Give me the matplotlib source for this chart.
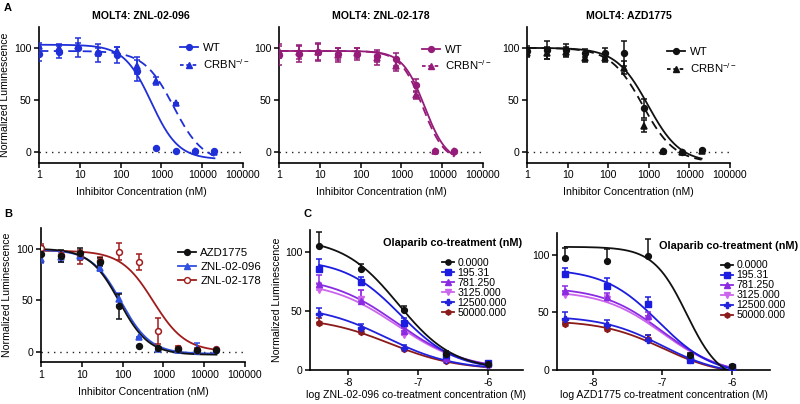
import numpy as np
import matplotlib
matplotlib.use("Agg")
import matplotlib.pyplot as plt
from matplotlib.lines import Line2D

plt.rcParams['font.family'] = ['Liberation Sans', 'DejaVu Sans']
plt.rcParams['mathtext.fontset'] = 'custom'
plt.rcParams['mathtext.rm'] = 'Liberation Sans'
plt.rcParams['mathtext.it'] = 'Liberation Sans'
plt.rcParams['axes.linewidth'] = 1.2

# ---------------- data ----------------
conc_nM = [1.02, 3.05, 9.14, 27.4, 82.3, 247, 741, 2222, 6667, 20000]
xticks_A = [1, 10, 100, 1000, 10000, 100000]
xtick_labels_A = ["1", "10", "100", "1000", "10000", "100000"]

# Panel A1: ZNL-02-096
a1_wt = [94, 96, 100, 95, 93, 78, 4, 1, 1, 1]
a1_wt_err = [7, 6, 9, 9, 8, 10, 0, 0, 0, 0]
a1_ko = [102, 100, 102, 96, 97, 83, 68, 47, 1, 0]
a1_ko_err = [3, 4, 3, 4, 4, 8, 4, 0, 0, 0]
a1_fit_wt = [103, -7, 2.75, 1.3]   # top, bottom, logIC50, hill
a1_fit_ko = [97, -10, 3.3, 1.2]

# Panel A2: ZNL-02-178
a2_wt = [93, 94, 96, 94, 94, 92, 89, 64, 1, 1]
a2_wt_err = [9, 8, 9, 6, 6, 6, 6, 6, 0, 0]
a2_ko = [97, 96, 96, 93, 95, 90, 83, 55, 1, 1]
a2_ko_err = [7, 7, 8, 7, 5, 6, 5, 4, 0, 0]
a2_fit_wt = [97, -10, 3.57, 1.6]
a2_fit_ko = [97, -10, 3.52, 1.6]

# Panel A3: AZD1775
a3_wt = [97, 98, 98, 95, 95, 95, 42, 1, 0, 2]
a3_wt_err = [5, 9, 6, 4, 5, 12, 9, 0, 0, 0]
a3_ko = [95, 95, 96, 90, 90, 81, 25, 1, 0, 1]
a3_ko_err = [4, 6, 5, 4, 4, 6, 6, 0, 0, 0]
a3_fit_wt = [100, -10, 2.98, 1.1]
a3_fit_ko = [100, -10, 2.85, 1.1]

# Panel B
b_azd = [95, 93, 96, 87, 44, 6, 4, 2.5, 2, 2]
b_azd_err = [8, 6, 5, 4, 12, 0, 0, 0, 0, 0]
b_096 = [90, 92, 93, 81, 51, 14, 3, 2, 3, 2]
b_096_err = [4, 5, 4, 3, 6, 0, 0, 0, 5, 0]
b_178 = [101, 94, 92, 88, 97, 87, 20, 4, 2, 3]
b_178_err = [3, 4, 7, 4, 8, 8, 13, 2, 2, 0]
b_fit_azd = [100, -3, 1.92, 1.2]
b_fit_096 = [99, -2, 1.96, 1.2]
b_fit_178 = [98, 0, 2.75, 1.1]

# Panel C
log_conc_M = [-8.408, -7.806, -7.204, -6.602, -6.0]
olaparib_labels = ["0.0000", "195.31", "781.250", "3125.000", "12500.000", "50000.000"]
c_colors = ["#111111", "#1c1ce0", "#8a2be2", "#cc66ee", "#2222dd", "#8b1a1a"]
c_markers = ["o", "s", "^", "v", "P", "h"]

c1_vals = [
    [105, 86, 51, 13.5, 5.5],
    [86, 75, 40, 12.5, 6],
    [73, 59, 33, 10, 5],
    [68, 60, 30, 9, 4],
    [48, 36, 19, 8.5, 4],
    [40, 32, 17.5, 8, 4],
]
c1_err = [
    [12, 4, 3, 3, 0],
    [8, 4, 4, 2, 0],
    [8, 9, 3, 2, 0],
    [6, 8, 3, 2, 0],
    [5, 3, 2, 1, 0],
    [4, 1, 1, 1, 0],
]
c1_fit = [  # top, bottom, logIC50, hill
    [112, 0, -7.28, 1.1],
    [94, 0, -7.25, 1.1],
    [80, 0, -7.3, 0.9],
    [76, 0, -7.3, 0.9],
    [55, 0, -7.45, 0.9],
    [45, 0, -7.4, 0.9],
]

c2_vals = [
    [97, 95, 99, 13, 3.5],
    [83, 73, 57, 9, 3],
    [69, 63, 47, 10, 2],
    [65.5, 62, 44, 10, 2],
    [44, 39, 26, 10, 2],
    [40, 36, 27, 9, 2],
]
c2_err = [
    [9, 10, 15, 2, 0],
    [6, 7, 6, 2, 0],
    [4, 4, 3, 1, 0],
    [3, 3, 3, 1, 0],
    [6, 4, 4, 1, 0],
    [2, 2, 3, 1, 0],
]
c2_fit = [
    [107, -10, -6.65, 1.8],
    [88, -5, -7.05, 1.1],
    [72, -5, -7.0, 1.0],
    [69, -5, -7.0, 1.0],
    [47, -5, -7.0, 1.0],
    [43, -5, -7.0, 1.0],
]


def fourpl(xlog, top, bottom, logc, hill):
    return bottom + (top - bottom) / (1 + 10 ** ((xlog - logc) * hill))


W, H = 800, 404
fig = plt.figure(figsize=(8, 4.04), dpi=100)


def ax_px(left, right, top, bottom):
    return fig.add_axes([left / W, 1 - bottom / H, (right - left) / W, (bottom - top) / H])


FS = 7.6


def style_axes(ax):
    for s in ["top", "right"]:
        ax.spines[s].set_visible(False)
    ax.tick_params(direction="out", length=3.5, width=1.1, labelsize=FS, pad=2)
    ax.minorticks_off()


def setup_A(ax):
    ax.set_xscale("log")
    ax.set_xlim(1, 100000)
    ax.set_ylim(-10, 120)
    ax.set_xticks(xticks_A)
    ax.set_xticklabels(xtick_labels_A)
    ax.set_yticks([0, 50, 100])
    style_axes(ax)
    ax.minorticks_off()
    ax.plot([1, 100000], [0, 0], color="#222222", lw=1.0, ls=(0, (1, 3.5)))
    ax.set_xlabel("Inhibitor Concentration (nM)", fontsize=FS, labelpad=5)


xs_fit = np.logspace(np.log10(conc_nM[0]), np.log10(conc_nM[-1]), 300)
xl_fit = np.log10(xs_fit)


def draw_series(ax, vals, err, fit, color, marker, ls, mfc=None, ms=4.2):
    ax.errorbar(conc_nM, vals, yerr=err, fmt=marker, color=color, ms=ms,
                mfc=mfc if mfc else color, mec=color, mew=1.1,
                ecolor=color, elinewidth=1.1, capsize=2.5, capthick=1.1, ls="none", zorder=3)
    ax.plot(xs_fit, fourpl(xl_fit, *fit), color=color, lw=1.3, ls=ls, zorder=2)


def legend_A(ax, color, labels, markers, lss, anchor, mfcs=None):
    handles = []
    for i, (lab, m, ls) in enumerate(zip(labels, markers, lss)):
        mfc = mfcs[i] if mfcs else color
        c = color[i] if isinstance(color, list) else color
        handles.append(Line2D([], [], color=c, marker=m, ls=ls, lw=1.3, ms=4.2,
                              mfc=mfc if mfc else c, mec=c))
    ax.legend(handles, labels, loc="upper left", bbox_to_anchor=anchor, frameon=False,
              fontsize=8.2, handlelength=1.6, handletextpad=0.4, labelspacing=0.35,
              borderpad=0, borderaxespad=0)


CRBN = "CRBN$^{-/-}$"

# ---- A1 ----
blueA = "#2030d8"
ax1 = ax_px(39, 243, 27, 162.5)
setup_A(ax1)
draw_series(ax1, a1_wt, a1_wt_err, a1_fit_wt, blueA, "o", "-")
draw_series(ax1, a1_ko, a1_ko_err, a1_fit_ko, blueA, "^", (0, (5, 3)))
ax1.set_ylabel("Normalized Luminescence", fontsize=FS, labelpad=3)
ax1.set_title("MOLT4: ZNL-02-096", fontsize=FS, fontweight="bold", pad=6)
legend_A(ax1, blueA, ["WT", CRBN], ["o", "^"], ["-", (0, (2, 1.5))], (0.69, 0.88))

# ---- A2 ----
purpA = "#951c78"
ax2 = ax_px(279, 483, 27, 162.5)
setup_A(ax2)
draw_series(ax2, a2_wt, a2_wt_err, a2_fit_wt, purpA, "o", "-")
draw_series(ax2, a2_ko, a2_ko_err, a2_fit_ko, purpA, "^", (0, (5, 3)))
ax2.set_title("MOLT4: ZNL-02-178", fontsize=FS, fontweight="bold", pad=6)
legend_A(ax2, purpA, ["WT", CRBN], ["o", "^"], ["-", (0, (2, 1.5))], (0.70, 0.87))

# ---- A3 ----
ax3 = ax_px(527, 730, 27, 162.5)
setup_A(ax3)
draw_series(ax3, a3_wt, a3_wt_err, a3_fit_wt, "#111111", "o", "-")
draw_series(ax3, a3_ko, a3_ko_err, a3_fit_ko, "#111111", "^", (0, (5, 3)))
ax3.set_title("MOLT4: AZD1775", fontsize=FS, fontweight="bold", pad=6)
legend_A(ax3, "#111111", ["WT", CRBN], ["o", "^"], ["-", (0, (2, 1.5))], (0.69, 0.85))

# ---- B ----
axb = ax_px(41, 245, 228, 362)
setup_A(axb)
blueB = "#3050e0"
redB = "#a01c1c"
draw_series(axb, b_178, b_178_err, b_fit_178, redB, "o", "-", mfc="white")
draw_series(axb, b_096, b_096_err, b_fit_096, blueB, "^", "-")
draw_series(axb, b_azd, b_azd_err, b_fit_azd, "#111111", "o", "-")
axb.set_ylabel("Normalized Luminescence", fontsize=FS, labelpad=3)
legend_A(axb, ["#111111", blueB, redB], ["AZD1775", "ZNL-02-096", "ZNL-02-178"],
         ["o", "^", "o"], ["-", "-", "-"], (0.67, 0.85), mfcs=[None, None, "white"])


# ---- C ----
def setup_C(ax, xlim):
    ax.set_xlim(*xlim)
    ax.set_ylim(0, 119)
    ax.set_xticks([-8, -7, -6])
    ax.set_xticklabels(["-8", "-7", "-6"])
    ax.set_yticks([0, 50, 100])
    style_axes(ax)


xc_fit = np.linspace(log_conc_M[0], log_conc_M[-1], 200)


def draw_C(ax, vals_all, err_all, fit_all):
    for i in range(len(vals_all) - 1, -1, -1):
        col = c_colors[i]
        ax.errorbar(log_conc_M, vals_all[i], yerr=[np.zeros(5), err_all[i]], fmt=c_markers[i],
                    color=col, ms=4.2, mec=col, ecolor=col, elinewidth=1.1, capsize=2.5,
                    capthick=1.1, ls="none", zorder=3)
        ax.plot(xc_fit, fourpl(xc_fit, *fit_all[i]), color=col, lw=1.3, zorder=2)


def legend_C(ax, anchor_title, anchor_entries):
    ax.text(anchor_title[0], anchor_title[1], "Olaparib co-treatment (nM)", transform=ax.transAxes,
            fontsize=7.8, fontweight="bold", ha="left", va="center")
    handles = [Line2D([], [], color=c, marker=m, lw=1.3, ms=3.8, mec=c)
               for c, m in zip(c_colors, c_markers)]
    ax.legend(handles, olaparib_labels, loc="upper left", bbox_to_anchor=anchor_entries,
              frameon=False, fontsize=7.6, handlelength=1.1, handletextpad=0.35,
              labelspacing=0.0, borderpad=0, borderaxespad=0)


axc1 = ax_px(310, 523, 230, 370)
setup_C(axc1, (-8.54, -5.5))
draw_C(axc1, c1_vals, c1_err, c1_fit)
axc1.set_ylabel("Normalized Luminescence", fontsize=FS, labelpad=2)
axc1.set_xlabel("log ZNL-02-096 co-treatment concentration (M)", fontsize=FS, labelpad=2)
legend_C(axc1, (0.345, 0.905), (0.62, 0.80))

axc2 = ax_px(557, 770, 233, 370)
setup_C(axc2, (-8.52, -5.45))
draw_C(axc2, c2_vals, c2_err, c2_fit)
axc2.set_xlabel("log AZD1775 co-treatment concentration (M)", fontsize=FS, labelpad=2)
legend_C(axc2, (0.48, 0.905), (0.77, 0.80))

# panel letters
fig.text(4 / W, 1 - 8 / H, "A", fontsize=8, fontweight="bold", va="center")
fig.text(4 / W, 1 - 214 / H, "B", fontsize=8, fontweight="bold", va="center")
fig.text(303 / W, 1 - 214 / H, "C", fontsize=8, fontweight="bold", va="center")

fig.savefig("out.png", dpi=100)
